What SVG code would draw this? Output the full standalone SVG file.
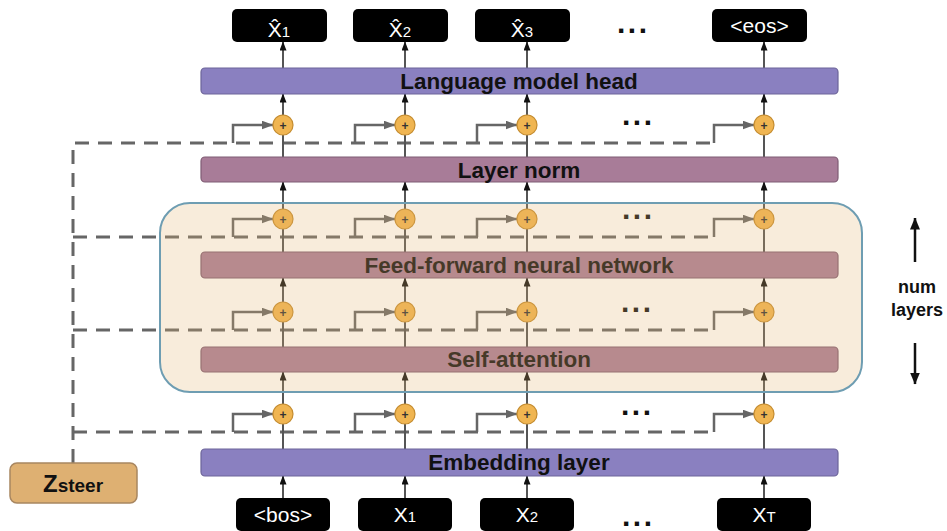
<svg xmlns="http://www.w3.org/2000/svg" width="947" height="531" viewBox="0 0 947 531">
<style>
.tokbox{fill:#000;}
.tok{font-family:"Liberation Sans",Arial,sans-serif;font-size:21px;fill:#fff;text-anchor:middle;}
.lbl{font-family:"Liberation Sans",Arial,sans-serif;font-size:22.5px;font-weight:bold;fill:#111;text-anchor:middle;}
.purple{fill:#8a80c0;stroke:#6c6499;stroke-width:1.2;}
.mauve{fill:#a87c98;stroke:#7f5c74;stroke-width:1.2;}
.vline{stroke:#555;stroke-width:2;fill:none;}
.dash{stroke:#666;stroke-width:3;fill:none;stroke-dasharray:14 9;}
.branch{stroke:#666;stroke-width:2.5;fill:none;}
.plus{fill:#f0b551;stroke:#c58c2f;stroke-width:1.2;}
.plust{font-family:"Liberation Sans",Arial,sans-serif;font-size:12px;font-weight:bold;fill:#333;text-anchor:middle;}
.dots{font-family:"Liberation Sans",Arial,sans-serif;font-size:30px;font-weight:bold;fill:#111;letter-spacing:2.5px;}
.side{font-family:"Liberation Sans",Arial,sans-serif;font-size:18px;font-weight:bold;fill:#111;text-anchor:middle;}
</style>
<defs>
<marker id="ab" viewBox="0 0 9 7" refX="8.5" refY="3.5" markerWidth="9" markerHeight="7" orient="auto" markerUnits="userSpaceOnUse"><path d="M0,0 L9,3.5 L0,7 z" fill="#111"/></marker>
<marker id="ag" viewBox="0 0 12 9" refX="11.5" refY="4.5" markerWidth="12" markerHeight="9" orient="auto" markerUnits="userSpaceOnUse"><path d="M0,0 L12,4.5 L0,9 z" fill="#666"/></marker>
<marker id="abig" viewBox="0 0 12 10" refX="11.5" refY="5" markerWidth="12" markerHeight="10" orient="auto" markerUnits="userSpaceOnUse"><path d="M0,0 L12,5 L0,10 z" fill="#111"/></marker>
</defs>
<rect width="947" height="531" fill="#fff"/>

<g id="connectors">
  <path class="dash" d="M73,463 V143 H714"/>
  <path class="dash" d="M73,237 H714"/>
  <path class="dash" d="M73,330 H714"/>
  <path class="dash" d="M73,432 H714"/>
  <g marker-end="url(#ag)">
    <path class="branch" d="M233,143 V125 H273"/>
    <path class="branch" d="M355,143 V125 H395"/>
    <path class="branch" d="M477,143 V125 H517"/>
    <path class="branch" d="M714,143 V125 H754"/>
    <path class="branch" d="M233,237 V219 H273"/>
    <path class="branch" d="M355,237 V219 H395"/>
    <path class="branch" d="M477,237 V219 H517"/>
    <path class="branch" d="M714,237 V219 H754"/>
    <path class="branch" d="M233,330 V312 H273"/>
    <path class="branch" d="M355,330 V312 H395"/>
    <path class="branch" d="M477,330 V312 H517"/>
    <path class="branch" d="M714,330 V312 H754"/>
    <path class="branch" d="M233,432 V414 H273"/>
    <path class="branch" d="M355,432 V414 H395"/>
    <path class="branch" d="M477,432 V414 H517"/>
    <path class="branch" d="M714,432 V414 H754"/>
  </g>
  <g id="col1">
    <path class="vline" d="M283,499 V476" marker-end="url(#ab)"/>
    <path class="vline" d="M283,449 V424"/>
    <path class="vline" d="M283,404 V372" marker-end="url(#ab)"/>
    <path class="vline" d="M283,347 V322"/>
    <path class="vline" d="M283,302 V278" marker-end="url(#ab)"/>
    <path class="vline" d="M283,252 V229"/>
    <path class="vline" d="M283,209 V182" marker-end="url(#ab)"/>
    <path class="vline" d="M283,157 V135"/>
    <path class="vline" d="M283,115 V94" marker-end="url(#ab)"/>
    <path class="vline" d="M283,68 V42" marker-end="url(#ab)"/>
  </g>
  <g id="col2">
    <path class="vline" d="M405,499 V476" marker-end="url(#ab)"/>
    <path class="vline" d="M405,449 V424"/>
    <path class="vline" d="M405,404 V372" marker-end="url(#ab)"/>
    <path class="vline" d="M405,347 V322"/>
    <path class="vline" d="M405,302 V278" marker-end="url(#ab)"/>
    <path class="vline" d="M405,252 V229"/>
    <path class="vline" d="M405,209 V182" marker-end="url(#ab)"/>
    <path class="vline" d="M405,157 V135"/>
    <path class="vline" d="M405,115 V94" marker-end="url(#ab)"/>
    <path class="vline" d="M405,68 V42" marker-end="url(#ab)"/>
  </g>
  <g id="col3">
    <path class="vline" d="M527,499 V476" marker-end="url(#ab)"/>
    <path class="vline" d="M527,449 V424"/>
    <path class="vline" d="M527,404 V372" marker-end="url(#ab)"/>
    <path class="vline" d="M527,347 V322"/>
    <path class="vline" d="M527,302 V278" marker-end="url(#ab)"/>
    <path class="vline" d="M527,252 V229"/>
    <path class="vline" d="M527,209 V182" marker-end="url(#ab)"/>
    <path class="vline" d="M527,157 V135"/>
    <path class="vline" d="M527,115 V94" marker-end="url(#ab)"/>
    <path class="vline" d="M527,68 V42" marker-end="url(#ab)"/>
  </g>
  <g id="col4">
    <path class="vline" d="M764,499 V476" marker-end="url(#ab)"/>
    <path class="vline" d="M764,449 V424"/>
    <path class="vline" d="M764,404 V372" marker-end="url(#ab)"/>
    <path class="vline" d="M764,347 V322"/>
    <path class="vline" d="M764,302 V278" marker-end="url(#ab)"/>
    <path class="vline" d="M764,252 V229"/>
    <path class="vline" d="M764,209 V182" marker-end="url(#ab)"/>
    <path class="vline" d="M764,157 V135"/>
    <path class="vline" d="M764,115 V94" marker-end="url(#ab)"/>
    <path class="vline" d="M764,68 V42" marker-end="url(#ab)"/>
  </g>
  <path d="M915,262 V218" stroke="#111" stroke-width="2.5" fill="none" marker-end="url(#abig)"/>
  <path d="M915,343 V384" stroke="#111" stroke-width="2.5" fill="none" marker-end="url(#abig)"/>
</g>

<g id="adders">
  <g id="add-r1">
    <circle class="plus" cx="283" cy="125" r="10"/><text class="plust" x="283" y="129.5">+</text>
    <circle class="plus" cx="405" cy="125" r="10"/><text class="plust" x="405" y="129.5">+</text>
    <circle class="plus" cx="527" cy="125" r="10"/><text class="plust" x="527" y="129.5">+</text>
    <circle class="plus" cx="764" cy="125" r="10"/><text class="plust" x="764" y="129.5">+</text>
  </g>
  <g id="add-r2">
    <circle class="plus" cx="283" cy="219" r="10"/><text class="plust" x="283" y="223.5">+</text>
    <circle class="plus" cx="405" cy="219" r="10"/><text class="plust" x="405" y="223.5">+</text>
    <circle class="plus" cx="527" cy="219" r="10"/><text class="plust" x="527" y="223.5">+</text>
    <circle class="plus" cx="764" cy="219" r="10"/><text class="plust" x="764" y="223.5">+</text>
  </g>
  <g id="add-r3">
    <circle class="plus" cx="283" cy="312" r="10"/><text class="plust" x="283" y="316.5">+</text>
    <circle class="plus" cx="405" cy="312" r="10"/><text class="plust" x="405" y="316.5">+</text>
    <circle class="plus" cx="527" cy="312" r="10"/><text class="plust" x="527" y="316.5">+</text>
    <circle class="plus" cx="764" cy="312" r="10"/><text class="plust" x="764" y="316.5">+</text>
  </g>
  <g id="add-r4">
    <circle class="plus" cx="283" cy="414" r="10"/><text class="plust" x="283" y="418.5">+</text>
    <circle class="plus" cx="405" cy="414" r="10"/><text class="plust" x="405" y="418.5">+</text>
    <circle class="plus" cx="527" cy="414" r="10"/><text class="plust" x="527" y="418.5">+</text>
    <circle class="plus" cx="764" cy="414" r="10"/><text class="plust" x="764" y="418.5">+</text>
  </g>
</g>

<g id="lm-head"><rect class="purple" x="201" y="68" width="637" height="26" rx="4"/><text class="lbl" x="519" y="89">Language model head</text></g>
<g id="layer-norm"><rect class="mauve" x="201" y="157" width="637" height="25" rx="4"/><text class="lbl" x="519" y="177.5">Layer norm</text></g>
<g id="ffn"><rect class="mauve" x="201" y="252" width="637" height="26" rx="4"/><text class="lbl" x="519" y="272.5">Feed-forward neural network</text></g>
<g id="self-attn"><rect class="mauve" x="201" y="347" width="637" height="25" rx="4"/><text class="lbl" x="519" y="367">Self-attention</text></g>
<g id="embedding"><rect class="purple" x="201" y="449" width="637" height="27" rx="4"/><text class="lbl" x="519" y="470">Embedding layer</text></g>

<g id="outputs">
  <g id="out1"><rect class="tokbox" x="232" y="9" width="95" height="33" rx="5"/><text class="tok" x="279" y="37" font-size="21">X̂<tspan font-size="15">1</tspan></text></g>
  <g id="out2"><rect class="tokbox" x="353" y="9" width="95" height="33" rx="5"/><text class="tok" x="400" y="37" font-size="21">X̂<tspan font-size="15">2</tspan></text></g>
  <g id="out3"><rect class="tokbox" x="475" y="9" width="95" height="33" rx="5"/><text class="tok" x="522" y="37" font-size="21">X̂<tspan font-size="15">3</tspan></text></g>
  <g id="out-eos"><rect class="tokbox" x="712" y="9" width="95" height="33" rx="5"/><text class="tok" x="759.5" y="33">&lt;eos&gt;</text></g>
</g>

<g id="inputs">
  <g id="in-bos"><rect class="tokbox" x="236" y="498" width="94" height="33" rx="5"/><text class="tok" x="283" y="522">&lt;bos&gt;</text></g>
  <g id="in1"><rect class="tokbox" x="358" y="498" width="94" height="33" rx="5"/><text class="tok" x="405" y="522">X<tspan font-size="15">1</tspan></text></g>
  <g id="in2"><rect class="tokbox" x="480" y="498" width="94" height="33" rx="5"/><text class="tok" x="527" y="522">X<tspan font-size="15">2</tspan></text></g>
  <g id="inT"><rect class="tokbox" x="717" y="498" width="94" height="33" rx="5"/><text class="tok" x="764" y="522">X<tspan font-size="15">T</tspan></text></g>
</g>

<g id="ellipses">
  <text class="dots" x="617" y="33">...</text>
  <text class="dots" x="622" y="125">...</text>
  <text class="dots" x="622" y="219">...</text>
  <text class="dots" x="621" y="312">...</text>
  <text class="dots" x="621" y="415">...</text>
  <text class="dots" x="622" y="526">...</text>
</g>

<g id="z-steer">
  <rect x="10" y="463" width="127" height="40" rx="7" fill="#deb072" stroke="#a88660" stroke-width="1.5"/>
  <text x="73" y="492" font-family="'Liberation Sans',Arial,sans-serif" font-weight="bold" fill="#111" text-anchor="middle"><tspan font-size="24">Z</tspan><tspan font-size="19">steer</tspan></text>
</g>

<g id="num-layers">
  <text class="side" x="917" y="293">num</text>
  <text class="side" x="917" y="316">layers</text>
</g>

<g id="transformer-block">
  <rect x="160" y="203" width="702" height="189" rx="30" fill="#e3b46e" fill-opacity="0.25" stroke="#6e9db2" stroke-width="2"/>
</g>
</svg>
